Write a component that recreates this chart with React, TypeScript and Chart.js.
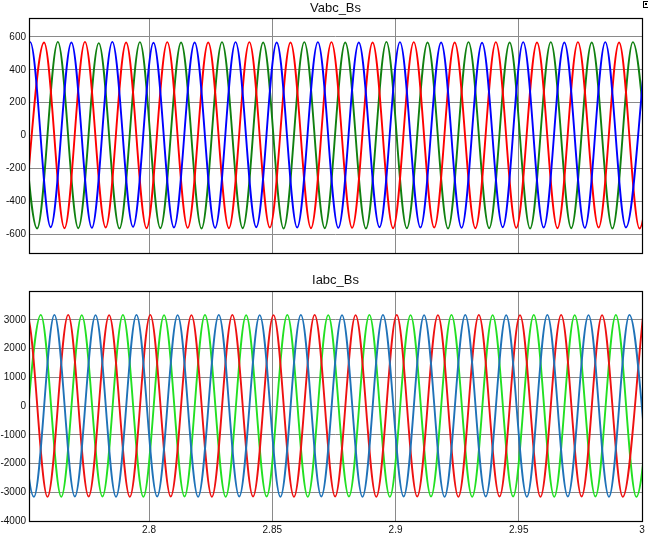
import React, { useEffect, useRef } from "react";
import { Chart, registerables } from "chart.js";

Chart.register(...registerables);

// Time axis
const X_MIN = 2.7513;
const X_MAX = 3.0;
const xTicks = [2.8, 2.85, 2.9, 2.95, 3];
const xTickLabels = ["2.8", "2.85", "2.9", "2.95", "3"];

// Top plot: Vabc_Bs (extrema: [time, value])
const vTitle = "Vabc_Bs";
const vTicks = [-600, -400, -200, 0, 200, 400, 600];
const vMin = -715;
const vMax = 715;
const vA: number[][] = [
  [2.7435, -560], [2.7518, 568], [2.7601, -558], [2.7685, 566], [2.7768, -562], [2.7851, 570],
  [2.7935, -556], [2.8018, 564], [2.8101, -560], [2.8185, 566], [2.8268, -562], [2.8351, 568],
  [2.8435, -558], [2.8518, 566], [2.8601, -560], [2.8685, 568], [2.8768, -562], [2.8851, 566],
  [2.8935, -558], [2.9018, 568], [2.9101, -560], [2.9185, 566], [2.9268, -562], [2.9351, 564],
  [2.9435, -558], [2.9518, 568], [2.9601, -560], [2.9685, 566], [2.9768, -562], [2.9851, 568],
  [2.9935, -560], [3.0018, 566],
];
const vB: number[][] = [
  [2.7490, -562], [2.7574, 566], [2.7657, -564], [2.7740, 570], [2.7824, -560], [2.7907, 566],
  [2.7990, -564], [2.8074, 568], [2.8157, -562], [2.8240, 566], [2.8324, -564], [2.8407, 568],
  [2.8490, -560], [2.8574, 566], [2.8657, -564], [2.8740, 568], [2.8824, -562], [2.8907, 566],
  [2.8990, -564], [2.9074, 568], [2.9157, -560], [2.9240, 566], [2.9324, -564], [2.9407, 568],
  [2.9490, -562], [2.9574, 566], [2.9657, -564], [2.9740, 568], [2.9824, -560], [2.9907, 566],
  [2.9990, -566], [3.0074, 566],
];
const vC: number[][] = [
  [2.7463, 566], [2.7546, -566], [2.7630, 570], [2.7713, -564], [2.7796, 562], [2.7880, -566],
  [2.7963, 568], [2.8046, -564], [2.8130, 566], [2.8213, -566], [2.8296, 568], [2.8380, -564],
  [2.8463, 566], [2.8546, -566], [2.8630, 568], [2.8713, -564], [2.8796, 566], [2.8880, -566],
  [2.8963, 570], [2.9046, -564], [2.9130, 566], [2.9213, -566], [2.9296, 568], [2.9380, -564],
  [2.9463, 566], [2.9546, -566], [2.9630, 568], [2.9713, -564], [2.9796, 566], [2.9880, -566],
  [2.9963, 568], [3.0046, -564],
];

// Bottom plot: Iabc_Bs
const iTitle = "Iabc_Bs";
const iTicks = [-4000, -3000, -2000, -1000, 0, 1000, 2000, 3000];
const iMin = -4000;
const iMax = 4000;
const iA: number[][] = [
  [2.7449, 3160], [2.7533, -3160], [2.7616, 3170], [2.7699, -3150], [2.7783, 3160], [2.7866, -3160],
  [2.7949, 3170], [2.8033, -3150], [2.8116, 3160], [2.8199, -3160], [2.8283, 3170], [2.8366, -3150],
  [2.8449, 3160], [2.8533, -3160], [2.8616, 3170], [2.8699, -3150], [2.8783, 3160], [2.8866, -3160],
  [2.8949, 3170], [2.9033, -3150], [2.9116, 3160], [2.9199, -3160], [2.9283, 3170], [2.9366, -3150],
  [2.9449, 3160], [2.9533, -3160], [2.9616, 3170], [2.9699, -3150], [2.9783, 3160], [2.9866, -3160],
  [2.9949, 3170], [3.0033, -3150],
];
const iB: number[][] = [
  [2.7422, -3160], [2.7505, 3170], [2.7588, -3160], [2.7672, 3170], [2.7755, -3150], [2.7838, 3160],
  [2.7922, -3160], [2.8005, 3170], [2.8088, -3150], [2.8172, 3160], [2.8255, -3160], [2.8338, 3170],
  [2.8422, -3150], [2.8505, 3160], [2.8588, -3160], [2.8672, 3170], [2.8755, -3150], [2.8838, 3160],
  [2.8922, -3160], [2.9005, 3170], [2.9088, -3150], [2.9172, 3160], [2.9255, -3160], [2.9338, 3170],
  [2.9422, -3150], [2.9505, 3160], [2.9588, -3160], [2.9672, 3170], [2.9755, -3150], [2.9838, 3160],
  [2.9922, -3160], [3.0005, 3170],
];
const iC: number[][] = [
  [2.7477, -3150], [2.7561, 3170], [2.7644, -3160], [2.7727, 3160], [2.7811, -3150], [2.7894, 3170],
  [2.7977, -3160], [2.8061, 3160], [2.8144, -3150], [2.8227, 3170], [2.8311, -3160], [2.8394, 3160],
  [2.8477, -3150], [2.8561, 3170], [2.8644, -3160], [2.8727, 3160], [2.8811, -3150], [2.8894, 3170],
  [2.8977, -3160], [2.9061, 3160], [2.9144, -3150], [2.9227, 3170], [2.9311, -3160], [2.9394, 3160],
  [2.9477, -3150], [2.9561, 3170], [2.9644, -3160], [2.9727, 3160], [2.9811, -3150], [2.9894, 3170],
  [2.9977, -3160], [3.0061, 3160],
];

const vColors = ["#0000ff", "#ff0000", "#108010"];
const iColors = ["#1f72b8", "#ee1111", "#22e022"];

const FONT = "'Liberation Sans', Arial, Helvetica, sans-serif";
const GRID = "#8a8a8a";

function frameAndTitle(title: string, titleY: number, icon: boolean) {
  return {
    id: "frameTitle",
    afterDraw(chart: any) {
      const { ctx, chartArea } = chart;
      ctx.save();
      ctx.strokeStyle = "#000";
      ctx.lineWidth = 1.2;
      ctx.strokeRect(
        Math.round(chartArea.left) + 0.5,
        Math.round(chartArea.top) + 0.5,
        Math.round(chartArea.right - chartArea.left),
        Math.round(chartArea.bottom - chartArea.top)
      );
      ctx.fillStyle = "#111";
      ctx.font = `13px ${FONT}`;
      ctx.textAlign = "center";
      ctx.textBaseline = "middle";
      ctx.fillText(title, (chartArea.left + chartArea.right) / 2, titleY);
      if (icon) {
        ctx.lineWidth = 1;
        ctx.strokeRect(643.5, 1.5, 6, 6);
        ctx.fillStyle = "#000";
        ctx.fillRect(645, 3, 2, 2);
      }
      ctx.restore();
    },
  };
}

function makeConfig(
  series: number[][][],
  colors: string[],
  yMin: number,
  yMax: number,
  yTicks: number[],
  showXLabels: boolean,
  padding: any,
  xHeight: number,
  title: string,
  titleY: number,
  icon: boolean
): any {
  return {
    type: "line",
    data: {
      datasets: series.map((s, i) => ({
        data: s.map((p) => ({ x: p[0], y: p[1] })),
        borderColor: colors[i],
        borderWidth: 1.9,
        pointRadius: 0,
        fill: false,
        cubicInterpolationMode: "monotone",
      })),
    },
    options: {
      responsive: false,
      animation: false,
      events: [],
      layout: { padding },
      plugins: { legend: { display: false }, tooltip: { enabled: false }, title: { display: false } },
      scales: {
        x: {
          type: "linear",
          min: X_MIN,
          max: X_MAX,
          afterBuildTicks: (s: any) => {
            s.ticks = xTicks.map((v) => ({ value: v }));
          },
          afterFit: (s: any) => {
            s.height = xHeight;
          },
          grid: { color: GRID, lineWidth: 1, drawTicks: false },
          border: { display: false },
          ticks: {
            display: showXLabels,
            padding: 3,
            maxRotation: 0,
            autoSkip: false,
            color: "#111",
            font: { family: FONT, size: 10 },
            callback: (v: number) => {
              const idx = xTicks.findIndex((t) => Math.abs(t - v) < 1e-9);
              return idx >= 0 ? xTickLabels[idx] : "";
            },
          },
        },
        y: {
          type: "linear",
          min: yMin,
          max: yMax,
          afterBuildTicks: (s: any) => {
            s.ticks = yTicks.map((v) => ({ value: v }));
          },
          afterFit: (s: any) => {
            s.width = 29;
          },
          grid: { color: GRID, lineWidth: 1, drawTicks: false },
          border: { display: false },
          ticks: {
            padding: 3,
            autoSkip: false,
            color: "#111",
            font: { family: FONT, size: 10 },
            callback: (v: number) => String(v),
          },
        },
      },
    },
    plugins: [frameAndTitle(title, titleY, icon)],
  };
}

export default function App() {
  const topRef = useRef<HTMLCanvasElement>(null);
  const botRef = useRef<HTMLCanvasElement>(null);

  useEffect(() => {
    const c1 = new Chart(
      topRef.current as HTMLCanvasElement,
      makeConfig([vA, vB, vC], vColors, vMin, vMax, vTicks, false,
        { top: 18, right: 6, bottom: 6, left: 0 }, 0, vTitle, 8, true)
    );
    const c2 = new Chart(
      botRef.current as HTMLCanvasElement,
      makeConfig([iA, iB, iC], iColors, iMin, iMax, iTicks, true,
        { top: 29, right: 6, bottom: 0, left: 0 }, 19, iTitle, 18, false)
    );
    return () => {
      c1.destroy();
      c2.destroy();
    };
  }, []);

  return (
    <div style={{ position: "absolute", left: 0, top: 0, width: 648, height: 540, background: "#fff" }}>
      <canvas ref={topRef} width={648} height={262} style={{ position: "absolute", left: 0, top: 0, width: 648, height: 262 }} />
      <canvas ref={botRef} width={648} height={278} style={{ position: "absolute", left: 0, top: 262, width: 648, height: 278 }} />
    </div>
  );
}
